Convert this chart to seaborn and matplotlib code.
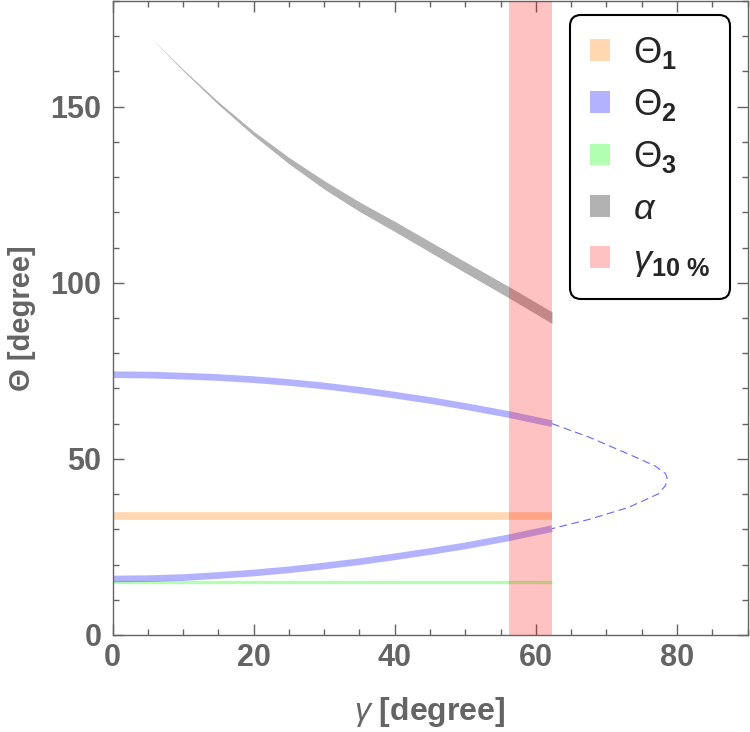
import numpy as np
import pandas as pd
import matplotlib
matplotlib.use("Agg")
import matplotlib.pyplot as plt
import seaborn as sns
from matplotlib.patches import Patch
from matplotlib.ticker import MultipleLocator

# values (all in degrees)
theta1_gamma = [0.0, 62.3]
theta1 = [33.7, 33.7]

theta3_gamma = [0.0, 62.3]
theta3 = [15.1, 15.1]

theta2_gamma = [0.0, 5.0, 10.0, 15.0, 20.0, 25.0, 30.0, 35.0, 40.0, 45.0, 50.0, 56.2, 62.3]
theta2_upper = [73.9, 73.8, 73.5, 73.1, 72.5, 71.7, 70.7, 69.5, 68.1, 66.6, 64.9, 62.6, 60.0]
theta2_lower = [15.9, 16.0, 16.3, 16.9, 17.6, 18.5, 19.6, 20.8, 22.2, 23.7, 25.3, 27.6, 30.2]

# dashed continuation of theta2 past the 10% band
theta2_ext_gamma = [62.3, 67.5, 73.1, 76.9, 78.4, 78.6, 78.4, 77.4, 73.1, 67.5, 62.3]
theta2_ext = [60.0, 56.2, 51.4, 48.0, 45.8, 44.5, 42.5, 40.1, 36.2, 32.8, 30.2]

alpha_gamma = [5.5, 7.5, 10.0, 15.0, 20.0, 25.0, 30.0, 35.0, 40.0, 45.0, 50.0, 56.2, 62.3]
alpha_mid = [169.5, 165.4, 160.4, 151.0, 142.4, 134.7, 127.8, 121.6, 116.0, 110.2, 104.4, 97.3, 90.1]
alpha_halfwidth = [0.0, 0.1, 0.2, 0.4, 0.6, 0.9, 1.2, 1.35, 1.45, 1.5, 1.55, 1.6, 1.65]

gamma10 = [56.2, 62.3]

labels = [r"$\Theta_{\mathbf{1}}$", r"$\Theta_{\mathbf{2}}$", r"$\Theta_{\mathbf{3}}$",
          r"$\alpha$", r"$\gamma_{\mathbf{10\ \%}}$"]
colors = ["#ff8000", "#0000ff", "#00ff00", "#000000", "#ff0000"]

sns.set_style("ticks")
plt.rcParams['font.family'] = ['Liberation Sans', 'DejaVu Sans']
plt.rcParams['mathtext.fontset'] = 'custom'
plt.rcParams['mathtext.rm'] = 'Liberation Sans'
plt.rcParams['mathtext.it'] = 'Liberation Sans:italic'
plt.rcParams['mathtext.bf'] = 'Liberation Sans:bold'

gray = "#646464"
op = 0.3
band_op = 0.24

fig = plt.figure(figsize=(7.5, 7.32), dpi=100)
ax = fig.add_axes([112.5 / 750, 1 - 635 / 732, 635 / 750, 634 / 732])

# alpha band
lo = np.array(alpha_mid) - np.array(alpha_halfwidth)
hi = np.array(alpha_mid) + np.array(alpha_halfwidth)
ax.fill_between(alpha_gamma, lo, hi, color=colors[3], alpha=op, lw=0)

sns.lineplot(x=theta1_gamma, y=theta1, ax=ax, color=colors[0], alpha=op,
             lw=5.5, solid_capstyle='butt')
sns.lineplot(x=theta3_gamma, y=theta3, ax=ax, color=colors[2], alpha=op,
             lw=2.4, solid_capstyle='butt')
sns.lineplot(x=theta2_gamma, y=theta2_upper, ax=ax, color=colors[1], alpha=op,
             lw=4.8, solid_capstyle='butt')
sns.lineplot(x=theta2_gamma, y=theta2_lower, ax=ax, color=colors[1], alpha=op,
             lw=4.8, solid_capstyle='butt')
sns.lineplot(x=theta2_ext_gamma, y=theta2_ext, ax=ax, color=colors[1], alpha=0.6,
             lw=0.8, sort=False, estimator=None, linestyle=(0, (7, 4)))

ax.axvspan(gamma10[0], gamma10[1], color=colors[4], alpha=band_op, lw=0, zorder=3)

ax.set_xlim(0, 90)
ax.set_ylim(0, 180)
ax.set_xticks([0, 20, 40, 60, 80])
ax.set_yticks([0, 50, 100, 150])
ax.xaxis.set_minor_locator(MultipleLocator(5))
ax.yaxis.set_minor_locator(MultipleLocator(10))
ax.tick_params(which='both', direction='in', top=True, right=True,
               color=gray, width=1, labelcolor=gray, labelsize=22)
ax.tick_params(which='major', length=8)
ax.tick_params(which='minor', length=4.5)
ax.tick_params(axis='x', pad=6)
ax.tick_params(axis='y', pad=8)
for lab in ax.get_xticklabels() + ax.get_yticklabels():
    lab.set_fontweight('bold')
for sp in ax.spines.values():
    sp.set_color(gray)
    sp.set_linewidth(1)

ax.set_xlabel(r"$\gamma$ [degree]", fontsize=23, fontweight='bold', color=gray)
ax.set_ylabel("Θ [degree]", fontsize=21, fontweight='bold', color=gray)
ax.xaxis.set_label_coords(0.5, -0.095)
ax.yaxis.set_label_coords(-0.12, 0.5)

handles = [Patch(facecolor=c, alpha=op if c != colors[4] else band_op, lw=0) for c in colors]
leg = ax.legend(handles, labels, loc='upper right',
                bbox_to_anchor=(730 / 750, 1 - 15 / 732), bbox_transform=fig.transFigure,
                borderaxespad=0, fontsize=26, frameon=True, fancybox=True,
                edgecolor='black', framealpha=1, handlelength=0.55, handleheight=0.55,
                handletextpad=0.65, labelspacing=0.45, borderpad=0.55)
leg.get_frame().set_linewidth(1.5)
leg.get_frame().set_boxstyle("round", pad=0, rounding_size=0.3)
leg.set_zorder(10)

fig.savefig("out.png", dpi=100)
